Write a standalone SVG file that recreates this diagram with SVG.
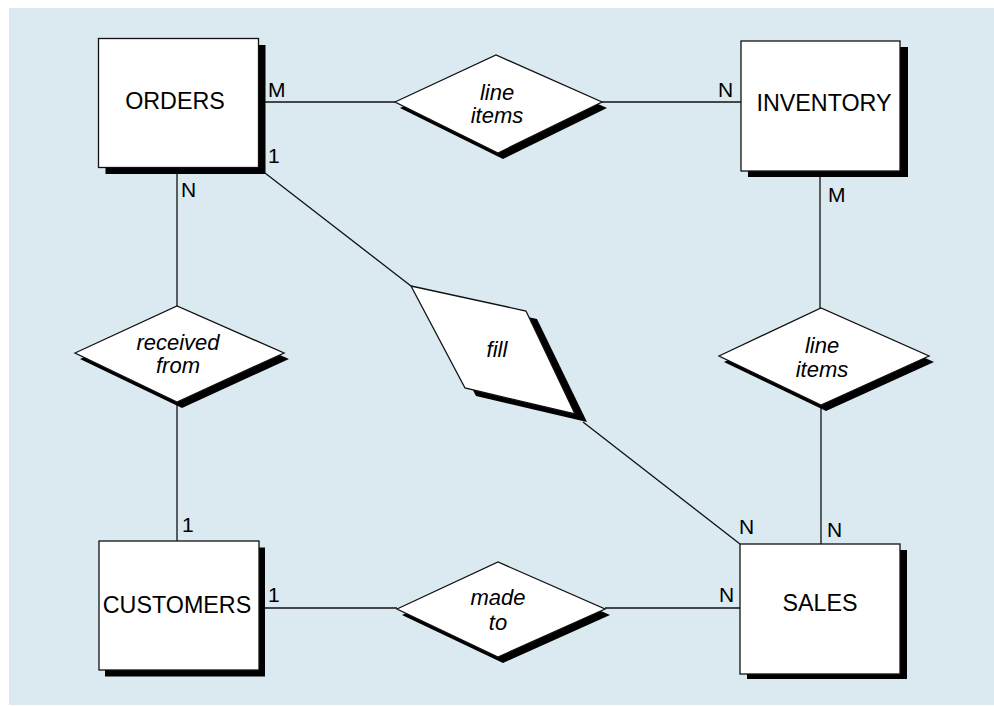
<svg xmlns="http://www.w3.org/2000/svg" width="994" height="706" viewBox="0 0 994 706">
<style>
.ent{fill:#fff;stroke:#111;stroke-width:1.3}
.shd{fill:#000}
.rel{fill:#fff;stroke:#111;stroke-width:1.3;stroke-linejoin:miter}
.ln{stroke:#111;stroke-width:1.3;fill:none}
.et{font-family:"Liberation Sans",Arial,sans-serif;font-size:23.3px;fill:#000;text-anchor:middle}
.rt{font-family:"Liberation Sans",Arial,sans-serif;font-size:22px;font-style:italic;fill:#000;text-anchor:middle}
.ct{font-family:"Liberation Sans",Arial,sans-serif;font-size:21px;fill:#000}
</style>
<rect x="0" y="0" width="994" height="706" fill="#fff"/>
<rect x="9" y="8" width="985" height="697" fill="#dbe9f1"/>
<g id="connectors">
<line class="ln" x1="265" y1="102" x2="395" y2="102"/>
<line class="ln" x1="602" y1="102" x2="741" y2="102"/>
<line class="ln" x1="177" y1="174" x2="177" y2="306"/>
<line class="ln" x1="177" y1="402" x2="177" y2="541"/>
<line class="ln" x1="820" y1="177" x2="820" y2="308"/>
<line class="ln" x1="821" y1="405" x2="821" y2="544"/>
<line class="ln" x1="265" y1="608" x2="397" y2="608"/>
<line class="ln" x1="605" y1="608" x2="740" y2="608"/>
<line class="ln" x1="265" y1="173" x2="411" y2="286"/>
<line class="ln" x1="583" y1="422" x2="740" y2="544"/>
</g>
<g id="orders">
<rect class="shd" x="105.5" y="45" width="160" height="129"/>
<rect class="ent" x="98.5" y="38.5" width="160" height="129"/>
<text class="et" x="175" y="109">ORDERS</text>
</g>
<g id="inventory">
<rect class="shd" x="748" y="47" width="160" height="130"/>
<rect class="ent" x="741" y="41" width="159" height="130"/>
<text class="et" x="824" y="111">INVENTORY</text>
</g>
<g id="sales">
<rect class="shd" x="747" y="550" width="160" height="129"/>
<rect class="ent" x="740" y="544" width="160" height="130"/>
<text class="et" x="820" y="611">SALES</text>
</g>
<g id="customers">
<rect class="shd" x="105" y="547.5" width="160" height="129"/>
<rect class="ent" x="99" y="541" width="160" height="129"/>
<text class="et" x="177" y="613">CUSTOMERS</text>
</g>
<g id="rel-line-items-top">
<polygon class="shd" points="400,108 501,61 607,108 503,159"/>
<polygon class="rel" points="395,102 496,55 602,102 498,153"/>
<text class="rt" x="497" y="100">line</text>
<text class="rt" x="497" y="123">items</text>
</g>
<g id="rel-received-from">
<polygon class="shd" points="80,359 182,312 289,359 182,408"/>
<polygon class="rel" points="75,353 177,306 284,353 177,402"/>
<text class="rt" x="178" y="350">received</text>
<text class="rt" x="178" y="373">from</text>
</g>
<g id="rel-fill">
<polygon class="shd" points="422,294 537,319 587,422 476,396"/>
<polygon class="rel" points="411,286 526,311 575,414 465,388"/>
<text class="rt" x="497" y="357">fill</text>
</g>
<g id="rel-line-items-right">
<polygon class="shd" points="724,362 826,314 934,362 826,411"/>
<polygon class="rel" points="719,356 821,308 929,356 821,405"/>
<text class="rt" x="822" y="353">line</text>
<text class="rt" x="822" y="377">items</text>
</g>
<g id="rel-made-to">
<polygon class="shd" points="402,615 503,568 610,615 503,663"/>
<polygon class="rel" points="397,609 498,562 605,609 498,657"/>
<text class="rt" x="498" y="605">made</text>
<text class="rt" x="498" y="630">to</text>
</g>
<g id="cardinalities">
<text class="ct" x="268" y="97">M</text>
<text class="ct" x="268" y="163">1</text>
<text class="ct" x="181" y="197">N</text>
<text class="ct" x="718" y="97">N</text>
<text class="ct" x="828" y="202">M</text>
<text class="ct" x="739" y="534">N</text>
<text class="ct" x="827" y="537">N</text>
<text class="ct" x="719" y="602">N</text>
<text class="ct" x="182" y="532">1</text>
<text class="ct" x="268" y="602">1</text>
</g>
</svg>
